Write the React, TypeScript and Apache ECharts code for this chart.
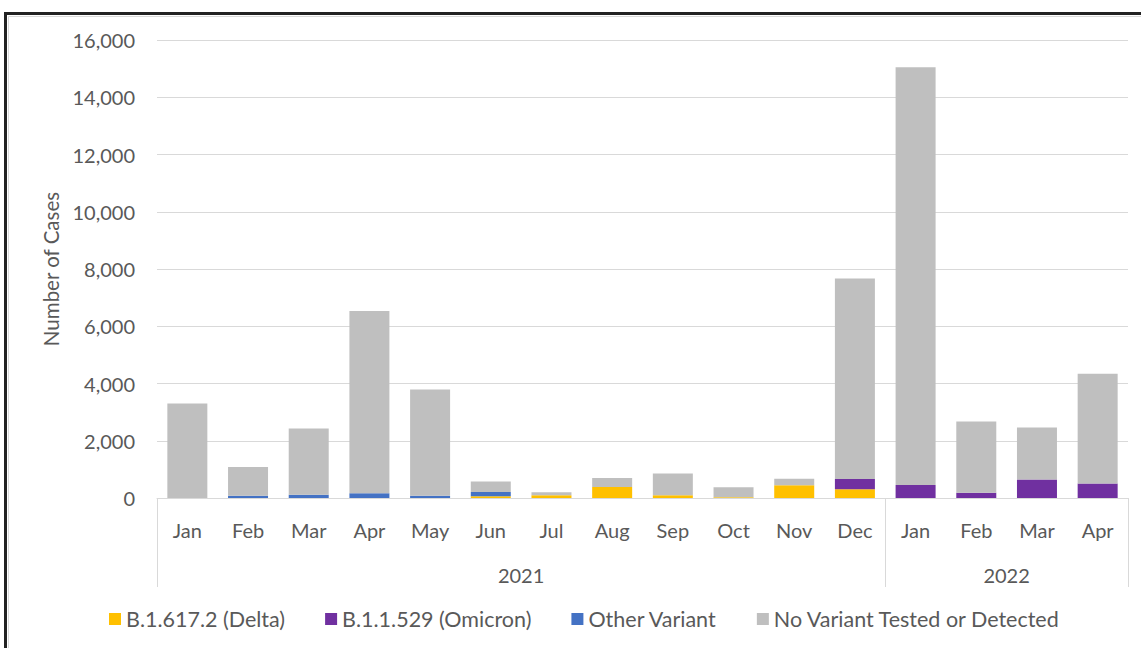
import React, { useEffect, useRef } from "react";
import * as echarts from "echarts";

const months = ["Jan", "Feb", "Mar", "Apr", "May", "Jun", "Jul", "Aug", "Sep", "Oct", "Nov", "Dec", "Jan", "Feb", "Mar", "Apr"];
const years = ["2021", "2022"];
const yearSpans = [12, 4];
const delta = [0, 0, 0, 0, 0, 60, 95, 385, 95, 30, 445, 305, 0, 0, 0, 0];
const omicron = [0, 0, 0, 0, 0, 0, 0, 0, 0, 0, 0, 360, 455, 185, 650, 510];
const other = [0, 80, 115, 170, 80, 150, 0, 0, 0, 0, 0, 0, 0, 0, 0, 0];
const noVariant = [3300, 1000, 2315, 6365, 3710, 370, 105, 315, 765, 345, 230, 7000, 14590, 2490, 1815, 3830];
const seriesNames = ["B.1.617.2 (Delta)", "B.1.1.529 (Omicron)", "Other Variant", "No Variant Tested or Detected"];
const colors = ["#FFC000", "#7030A0", "#4472C4", "#BFBFBF"];

export default function App() {
  const ref = useRef<HTMLDivElement>(null);
  useEffect(() => {
    if (!ref.current) return;
    const chart = echarts.init(ref.current, undefined, { renderer: "svg" });
    const font = "Lato";
    const textColor = "#595959";
    const fs = 20;
    const bounds: number[] = [0];
    yearSpans.forEach((s) => bounds.push(bounds[bounds.length - 1] + s));
    const centers: number[] = [];
    for (let i = 0; i < yearSpans.length; i++) centers.push((bounds[i] + bounds[i + 1]) / 2);
    const datas = [delta, omicron, other, noVariant];
    chart.setOption({
      animation: false,
      textStyle: { fontFamily: font },
      grid: { left: 157, right: 13, top: 40, bottom: 150, containLabel: false },
      legend: {
        left: 104,
        top: 603,
        icon: "rect",
        itemWidth: 12,
        itemHeight: 12,
        itemGap: 40,
        itemStyle: { borderWidth: 0 },
        textStyle: { fontFamily: font, fontSize: 21.5, color: textColor },
        data: seriesNames,
      },
      xAxis: [
        {
          type: "category",
          data: months,
          axisLine: { lineStyle: { color: "#D9D9D9", width: 1 } },
          axisTick: { show: false },
          axisLabel: { color: textColor, fontSize: fs, fontFamily: font, margin: 22, interval: 0 },
        },
        {
          type: "value",
          min: 0,
          max: months.length,
          position: "bottom",
          axisLine: { show: false },
          splitLine: { show: false },
          axisTick: {
            show: true,
            customValues: bounds,
            length: 89,
            lineStyle: { color: "#D9D9D9", width: 1 },
          },
          axisLabel: {
            customValues: centers,
            color: textColor,
            fontSize: fs,
            fontFamily: font,
            margin: 67,
            formatter: (v: number) => {
              const i = centers.findIndex((c) => Math.abs(c - v) < 1e-6);
              return i >= 0 ? years[i] : "";
            },
          },
        },
      ],
      yAxis: {
        type: "value",
        min: 0,
        max: 16000,
        interval: 2000,
        name: "Number of Cases",
        nameLocation: "middle",
        nameGap: 95,
        nameTextStyle: { color: textColor, fontSize: 20.5, fontFamily: font },
        axisLine: { show: false },
        axisTick: { show: false },
        axisLabel: {
          color: textColor,
          fontSize: fs,
          fontFamily: font,
          margin: 22,
          formatter: (v: number) => v.toLocaleString("en-US"),
        },
        splitLine: { lineStyle: { color: "#D9D9D9", width: 1 } },
      },
      series: seriesNames.map((n, i) => ({
        name: n,
        type: "bar",
        stack: "total",
        xAxisIndex: 0,
        data: datas[i],
        barWidth: 40,
        itemStyle: { color: colors[i], borderWidth: 0 },
        emphasis: { disabled: true },
      })),
      graphic: [
        {
          type: "rect",
          shape: { x: 5.5, y: 13.5, width: 1200, height: 700 },
          style: { fill: "none", stroke: "#222222", lineWidth: 3 },
          silent: true,
        },
        {
          type: "rect",
          shape: { x: 8.5, y: 16.5, width: 1200, height: 700 },
          style: { fill: "none", stroke: "#D9D9D9", lineWidth: 1 },
          silent: true,
        },
      ],
    });
    return () => chart.dispose();
  }, []);
  return <div ref={ref} style={{ position: "fixed", left: 0, top: 0, width: 1141, height: 648, background: "#fff" }} />;
}
